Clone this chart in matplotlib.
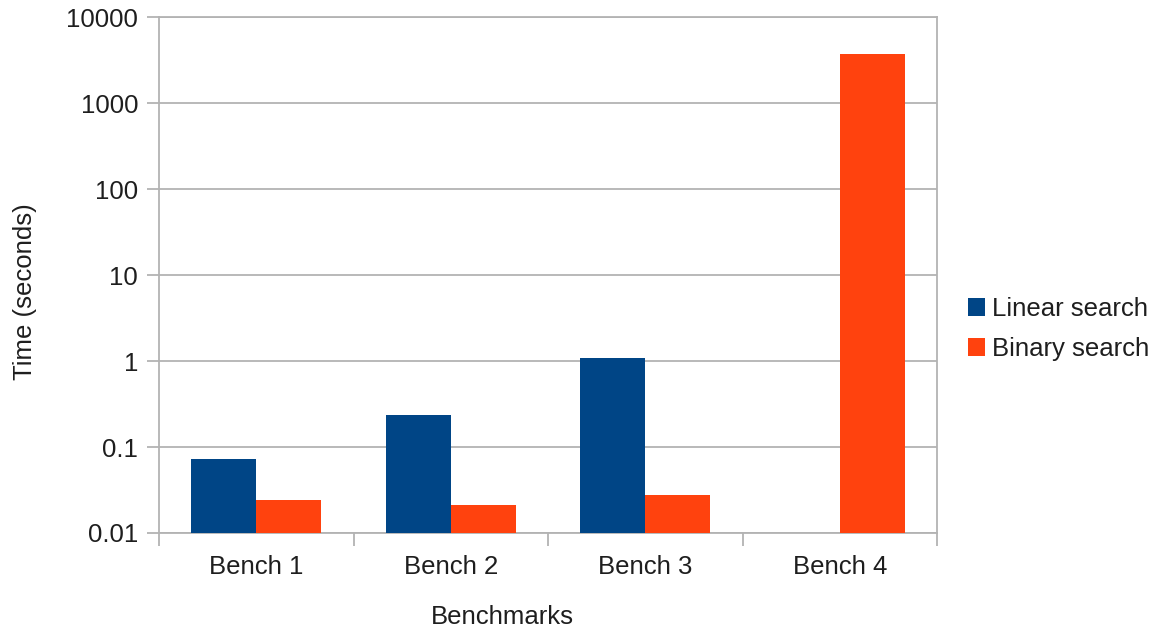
import numpy as np
import matplotlib
matplotlib.use("Agg")
import matplotlib.pyplot as plt
from matplotlib.ticker import FixedLocator, NullLocator, FixedFormatter

categories = ["Bench 1", "Bench 2", "Bench 3", "Bench 4"]
linear_search = [0.073, 0.236, 1.10, np.nan]
binary_search = [0.024, 0.021, 0.028, 3800.0]
y_ticks = [0.01, 0.1, 1, 10, 100, 1000, 10000]
y_tick_labels = ["0.01", "0.1", "1", "10", "100", "1000", "10000"]

plt.rcParams['font.family'] = ['Liberation Sans', 'DejaVu Sans']
TXT = '#1e1e1e'
GRID = '#b3b3b3'
FS = 18.5

fig = plt.figure(figsize=(11.62, 6.27), dpi=100)
ax = fig.add_axes([159/1162, 1-533/627, (937-159)/1162, (533-17.5)/627])

x = np.arange(len(categories))
w = 0.334
ax.bar(x - w/2, linear_search, width=w, color='#004586', label='Linear search', zorder=3)
ax.bar(x + w/2, binary_search, width=w, color='#ff420e', label='Binary search', zorder=3)

ax.set_yscale('log')
ax.set_ylim(0.01, 10000)
ax.set_xlim(-0.5, len(categories) - 0.5)
ax.yaxis.set_major_locator(FixedLocator(y_ticks))
ax.yaxis.set_major_formatter(FixedFormatter(y_tick_labels))
ax.yaxis.set_minor_locator(NullLocator())
ax.grid(axis='y', color=GRID, linewidth=1.3, zorder=0)

ax.set_xticks(x)
ax.set_xticklabels(categories)
ax.set_xticks(np.arange(len(categories) + 1) - 0.5, minor=True)
ax.tick_params(axis='x', which='major', length=0, pad=16, labelsize=FS, labelcolor=TXT)
ax.tick_params(axis='x', which='minor', length=9, width=1.3, color=GRID)
ax.tick_params(axis='y', which='major', length=9, width=1.3, color=GRID, pad=6,
               labelsize=FS, labelcolor=TXT)

for s in ax.spines.values():
    s.set_color(GRID)
    s.set_linewidth(1.3)

ax.set_xlabel('Benchmarks', fontsize=FS, color=TXT)
ax.xaxis.set_label_coords((502-159)/778, (533-617)/515.5)
ax.xaxis.label.set_va('center')
ax.set_ylabel('Time (seconds)', fontsize=FS, color=TXT)
ax.yaxis.set_label_coords((25-159)/778, (533-292)/515.5)
ax.yaxis.label.set_va('center')

fig.legend(loc='center left', bbox_to_anchor=(968/1162, 1-329/627), frameon=False,
           fontsize=FS, handlelength=0.65, handleheight=0.65, handletextpad=0.3,
           labelspacing=0.62, borderpad=0, borderaxespad=0, labelcolor=TXT)

fig.savefig('out.png', dpi=100)
